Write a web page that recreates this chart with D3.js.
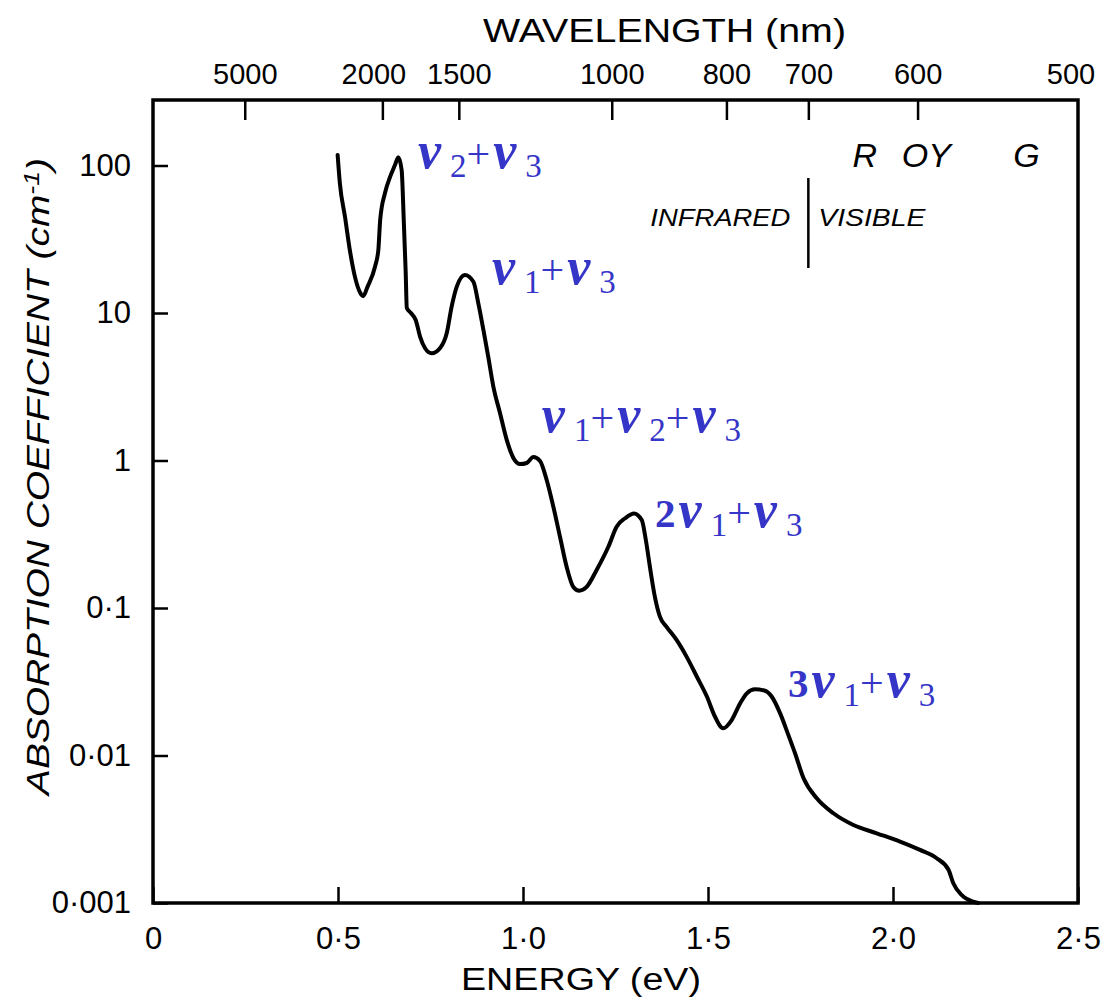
<!DOCTYPE html>
<html><head><meta charset="utf-8">
<script src="https://cdn.jsdelivr.net/npm/d3@7"></script>
<style>body{margin:0;background:#fff}</style>
</head><body><svg id="c" width="1105" height="1000"></svg>
<script>
// Photon energy (eV) and absorption coefficient (cm^-1)
const energy = [0.499,0.505,0.519,0.532,0.546,0.560,0.568,0.580,0.600,0.609,0.614,0.627,0.641,0.654,0.663,0.672,0.678,0.683,0.686,0.697,0.710,0.722,0.735,0.753,0.776,0.794,0.807,0.821,0.843,0.866,0.879,0.893,0.906,0.920,0.938,0.956,0.974,0.992,1.010,1.028,1.046,1.064,1.082,1.100,1.118,1.136,1.152,1.172,1.199,1.231,1.253,1.276,1.300,1.321,1.332,1.343,1.357,1.370,1.388,1.415,1.442,1.470,1.497,1.519,1.541,1.564,1.587,1.605,1.627,1.654,1.672,1.695,1.717,1.735,1.758,1.794,1.839,1.893,1.956,2.019,2.073,2.118,2.150,2.163,2.186,2.217,2.230];
const absorption = [118,76,44.8,26.7,17.5,13.7,13.0,15.1,20.6,26.7,42.7,65.1,84,100.7,113.7,93.2,40.8,18.7,10.8,10.0,8.97,6.9,5.79,5.33,5.79,7.31,11.0,15.1,18.1,16.3,11.7,7.67,5.06,3.16,2.09,1.38,1.04,0.946,0.962,1.056,0.993,0.738,0.486,0.304,0.190,0.139,0.131,0.139,0.181,0.261,0.356,0.406,0.438,0.395,0.289,0.190,0.117,0.0873,0.0746,0.0607,0.0468,0.0342,0.0251,0.0183,0.0153,0.0174,0.0226,0.0264,0.0281,0.0275,0.0251,0.0193,0.0138,0.0104,0.00703,0.00513,0.00406,0.00338,0.00297,0.00261,0.00229,0.00201,0.00168,0.00136,0.00113,0.00102,0.00100];

const energyTicks = [0,0.5,1.0,1.5,2.0,2.5];
const energyTickLabels = ["0","0·5","1·0","1·5","2·0","2·5"];
const absTicks = [100,10,1,0.1,0.01,0.001];
const absTickLabels = ["100","10","1","0·1","0·01","0·001"];
const wavelengthTicks = [5000,2000,1500,1000,800,700,600,500];
const colourNames = ["R","OY","G"];
const colourEnergy = [1.924,2.09,2.361];
const bandLabels = [
  [["nu","ν"],["sub","2"],["plus","+"],["nu","ν"],["sub","3"]],
  [["nu","ν"],["sub","1"],["plus","+"],["nu","ν"],["sub","3"]],
  [["nu","ν"],["sub","1"],["plus","+"],["nu","ν"],["sub","2"],["plus","+"],["nu","ν"],["sub","3"]],
  [["coef","2"],["nu","ν"],["sub","1"],["plus","+"],["nu","ν"],["sub","3"]],
  [["coef","3"],["nu","ν"],["sub","1"],["plus","+"],["nu","ν"],["sub","3"]]
];
const bandLabelEnergy = [0.716,0.916,1.051,1.357,1.716];
const bandLabelAbs = [96,15.7,1.56,0.354,0.0249];

const HC = 1239.84;
const svg = d3.select("#c");
svg.append("rect").attr("width",1105).attr("height",1000).attr("fill","#fff");
const L=153,R=1078,T=100,B=903;
const x = d3.scaleLinear().domain([0,2.5]).range([L,R]);
const y = d3.scaleLog().domain([0.001,278]).range([B,T]);
const sans = "'Liberation Sans', Arial, sans-serif";

// bottom axis
const gb = svg.append("g").attr("transform",`translate(0,${B})`)
  .call(d3.axisBottom(x).tickValues(energyTicks).tickSize(-16).tickPadding(24)
    .tickFormat((d,i)=>energyTickLabels[i]));
// top axis (wavelength)
const gt = svg.append("g").attr("transform",`translate(0,${T})`)
  .call(d3.axisTop(x).tickValues(wavelengthTicks.map(l=>HC/l)).tickSize(-20).tickPadding(16)
    .tickFormat((d,i)=>String(wavelengthTicks[i])));
// left axis
const gl = svg.append("g").attr("transform",`translate(${L},0)`)
  .call(d3.axisLeft(y).tickValues(absTicks).tickSize(-15).tickPadding(22)
    .tickFormat((d,i)=>absTickLabels[i]));
[gb,gt,gl].forEach(g=>{
  g.select(".domain").remove();
  g.selectAll(".tick line").attr("stroke","#000").attr("stroke-width",2.5);
  g.selectAll(".tick text").attr("fill","#000").attr("font-family",sans).attr("font-size",31);
});
gt.selectAll(".tick text").attr("font-size",29);
gt.selectAll(".tick").filter(d=>Math.abs(d-HC/2000)<1e-6).select("text").attr("dx",-9);
gt.selectAll(".tick").filter(d=>Math.abs(d-HC/500)<1e-6).select("line").remove();

// frame
svg.append("rect").attr("x",L).attr("y",T).attr("width",R-L).attr("height",B-T)
  .attr("fill","none").attr("stroke","#000").attr("stroke-width",3.5);

// curve
const line = d3.line().x((d,i)=>x(energy[i])).y((d,i)=>y(absorption[i])).curve(d3.curveMonotoneX);
svg.append("path").attr("d",line(energy)).attr("fill","none").attr("stroke","#000")
  .attr("stroke-width",4).attr("stroke-linejoin","round").attr("stroke-linecap","round");

// axis titles
svg.append("text").attr("x",483).attr("y",42).attr("font-family",sans).attr("font-size",33)
  .attr("textLength",363).attr("lengthAdjust","spacingAndGlyphs").text("WAVELENGTH   (nm)");
svg.append("text").attr("x",461).attr("y",990).attr("font-family",sans).attr("font-size",31)
  .attr("textLength",240).attr("lengthAdjust","spacingAndGlyphs").text("ENERGY (eV)");
const yl = svg.append("text").attr("transform","translate(49,795) rotate(-90)")
  .attr("font-family",sans).attr("font-size",32).attr("font-style","italic")
  .attr("textLength",637).attr("lengthAdjust","spacingAndGlyphs");
yl.append("tspan").text("ABSORPTION COEFFICIENT (cm");
yl.append("tspan").attr("dy",-10).attr("font-size",22).text("-1");
yl.append("tspan").attr("dy",10).text(")");

// colour letters
svg.selectAll(".col").data(colourNames).join("text").attr("class","col")
  .attr("x",(d,i)=>x(colourEnergy[i])).attr("y",167).attr("text-anchor","middle")
  .attr("font-family",sans).attr("font-style","italic").attr("font-size",34)
  .text(d=>d);
// infrared / visible
const xv = x(HC/700);
svg.append("line").attr("x1",xv).attr("x2",xv).attr("y1",178).attr("y2",268)
  .attr("stroke","#000").attr("stroke-width",2.5);
svg.append("text").attr("x",xv-158).attr("y",226)
  .attr("font-family",sans).attr("font-style","italic").attr("font-size",24)
  .attr("textLength",140).attr("lengthAdjust","spacingAndGlyphs").text("INFRARED");
svg.append("text").attr("x",xv+10).attr("y",226)
  .attr("font-family",sans).attr("font-style","italic").attr("font-size",24)
  .attr("textLength",107).attr("lengthAdjust","spacingAndGlyphs").text("VISIBLE");

// band labels
const blue = "#3535c8";
const styles = {
  nu:{size:52,style:"italic",weight:"bold",dy:0,dx:3},
  sub:{size:33,style:"normal",weight:"normal",dy:9,dx:9},
  plus:{size:42,style:"normal",weight:"normal",dy:0,dx:0},
  coef:{size:41,style:"normal",weight:"bold",dy:0,dx:0}
};
bandLabels.forEach((parts,k)=>{
  const t = svg.append("text").attr("x",x(bandLabelEnergy[k])).attr("y",y(bandLabelAbs[k]))
    .attr("font-family","'Liberation Serif','Times New Roman',serif").attr("fill",blue);
  let prev = 0;
  parts.forEach(([type,str],j)=>{
    const s = styles[type];
    t.append("tspan").attr("dy",s.dy-prev).attr("dx",j===0?0:s.dx).attr("font-size",s.size)
      .attr("font-style",s.style).attr("font-weight",s.weight).text(str);
    prev = s.dy;
  });
});
</script></body></html>
